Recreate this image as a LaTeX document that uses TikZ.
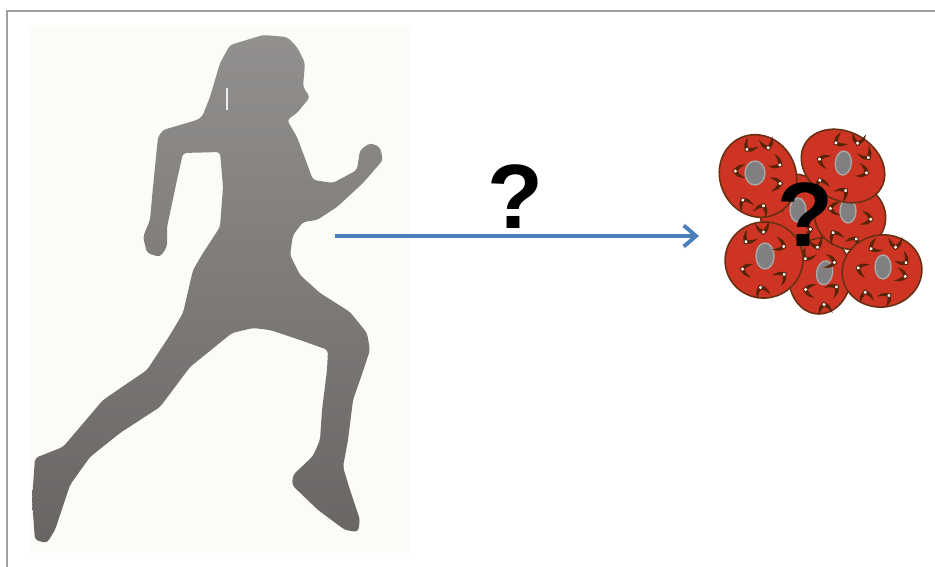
\documentclass[tikz,border=0pt]{standalone}
\usepackage{fontspec}
\setmainfont{Liberation Sans}
\usetikzlibrary{arrows.meta}

\definecolor{runlight}{RGB}{146,144,142}
\definecolor{rundark}{RGB}{105,101,100}
\definecolor{panel}{RGB}{251,251,248}
\definecolor{frame}{RGB}{160,160,160}
\definecolor{arrowblue}{RGB}{74,126,187}
\definecolor{cellred}{RGB}{205,52,36}
\definecolor{celledge}{RGB}{105,48,18}
\definecolor{nucgray}{RGB}{128,128,130}
\definecolor{nucedge}{RGB}{168,168,168}
\definecolor{barbbrown}{RGB}{88,36,8}

\tikzset{
  cell/.style={fill=cellred, draw=celledge, line width=0.9pt},
  nucleus/.style={fill=nucgray, draw=nucedge, line width=0.8pt},
  qmark/.style={inner sep=0pt, font=\fontsize{52}{60}\selectfont\bfseries},
  pics/barb/.style={code={
    \fill[barbbrown] (0,0) .. controls (5,-6) .. (13,-7)
      .. controls (7,-3) .. (5,0) .. controls (7,3) .. (13,7)
      .. controls (5,6) .. (0,0) -- cycle;
    \fill[white] (3,0) circle (1.7);
  }}
}

\begin{document}
\begin{tikzpicture}[x=0.02cm, y=-0.02cm]
\useasboundingbox (0,0) rectangle (935,567);

% FRAME
\draw[frame, line width=1.2pt] (7,567) -- (7,11) -- (935,11);
\fill[panel] (29,27) rectangle (410,553);

% RUNNER
\shade[top color=runlight, middle color=rundark, bottom color=rundark,
       rounded corners=2pt]
  (303,222) -- (293,235) -- (290,255) -- (300,275) -- (320,293)
  -- (350,312) -- (367,333) -- (370,350) -- (360,380) -- (353,400)
  -- (348,440) -- (343,467) -- (350,490) -- (360,520) -- (358,532)
  -- (345,530) -- (318,510) -- (292,485) -- (293,475) -- (313,456)
  -- (320,440) -- (322,410) -- (327,370) -- (328,350) -- (300,340)
  -- (270,330) -- (253,328) -- (232,333) -- (190,367) -- (160,407)
  -- (120,433) -- (90,457) -- (70,485) -- (55,530) -- (47,543)
  -- (35,540) -- (32,500) -- (35,458) -- (63,447) -- (103,400)
  -- (147,370) -- (170,335) -- (183,313) -- (193,270) -- (203,253)
  -- (220,227) -- (223,187) -- (220,152) -- (183,153) -- (177,180)
  -- (167,227) -- (167,247) -- (160,257) -- (147,253) -- (143,237)
  -- (150,220) -- (153,187) -- (158,137) -- (163,130) -- (197,120)
  -- (202,117) -- (210,97) -- (220,63) -- (230,45) -- (263,35)
  -- (287,37) -- (297,47) -- (305,63) -- (303,87) -- (310,97)
  -- (297,113) -- (287,120) -- (297,137) -- (303,153) -- (313,180)
  -- (333,183) -- (357,170) -- (360,150) -- (370,143) -- (380,147)
  -- (383,160) -- (363,183) -- (337,207) -- (317,220) -- cycle;
\draw[white!85!gray, line width=1.2pt] (227,88) -- (227,110);

% CELLS (back to front)
\begin{scope}[shift={(795,212)}]
  \draw[cell, rotate=10] (0,0) ellipse (35 and 38);
  \draw[nucleus] (3,-2) ellipse (8 and 12);
  \foreach \a in {40,110,200,250,320}
    \pic[rotate=\a+150] at (\a:24 and 26) {barb};
\end{scope}

\begin{scope}[shift={(820,276)}]
  \draw[cell, rotate=-5] (0,0) ellipse (31 and 38);
  \draw[nucleus, rotate=-10] (4,-4) ellipse (8 and 12);
  \foreach \a in {20,80,150,215,265,330}
    \pic[rotate=\a+200] at (\a:20 and 26) {barb};
\end{scope}

\begin{scope}[shift={(850,216)}]
  \draw[cell, rotate=-20] (0,0) ellipse (36 and 33);
  \draw[nucleus] (-2,-5) ellipse (8 and 12);
  \foreach \a in {10,70,140,200,250,310}
    \pic[rotate=\a+160] at (\a:24 and 22) {barb};
\end{scope}

\begin{scope}[shift={(758,176)}]
  \draw[cell, rotate=25] (0,0) ellipse (38 and 42);
  \draw[nucleus] (-3,-3) ellipse (10 and 12);
  \foreach \a in {15,75,130,190,240,295,340}
    \pic[rotate=\a+170] at (\a:26 and 28) {barb};
\end{scope}

\begin{scope}[shift={(843,166)}]
  \draw[cell, rotate=-30] (0,0) ellipse (44 and 34);
  \draw[nucleus, rotate=-5] (0,-3) ellipse (8 and 12);
  \foreach \a in {20,80,150,200,250,300,345}
    \pic[rotate=\a+140] at (\a:28 and 23) {barb};
\end{scope}

\begin{scope}[shift={(764,260)}]
  \draw[cell, rotate=15] (0,0) ellipse (39 and 38);
  \draw[nucleus] (1,-4) ellipse (9 and 13);
  \foreach \a in {30,100,160,220,270,330}
    \pic[rotate=\a+190] at (\a:26 and 25) {barb};
\end{scope}

\begin{scope}[shift={(882,271)}]
  \draw[cell, rotate=10] (0,0) ellipse (40 and 36);
  \draw[nucleus] (1,-4) ellipse (8 and 12);
  \foreach \a in {15,70,130,190,240,300,345}
    \pic[rotate=\a+150] at (\a:27 and 24) {barb};
\end{scope}

% ARROW
\coordinate (tail) at (335,236);
\coordinate (head) at (699,236);
\draw[arrowblue, line width=2.2pt,
      -{Straight Barb[length=7pt, width=12pt]}] (tail) -- (head);

% NOTES
\node[qmark] (q1) at (515,197) {?};
\node[qmark] (q2) at (805,215) {?};

\end{tikzpicture}
\end{document}
